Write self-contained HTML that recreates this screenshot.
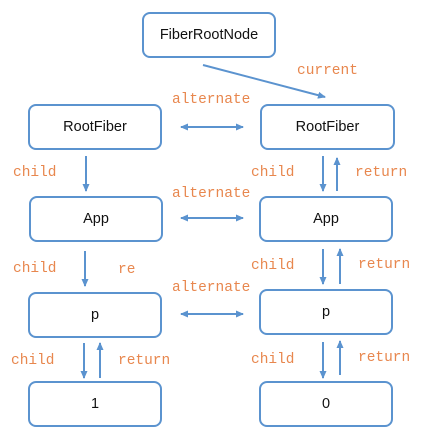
<!DOCTYPE html>
<html><head><style>
body{margin:0;background:#fff;width:446px;height:431px;overflow:hidden;position:relative}
.b{position:absolute;border:2px solid #5b93cf;border-radius:8px;box-sizing:border-box;display:flex;align-items:center;justify-content:center;font:14.5px "Liberation Sans",sans-serif;color:#111}
.l{position:absolute;font:14.5px "Liberation Mono",monospace;color:#e8874e;line-height:1}
svg{position:absolute;left:0;top:0}
</style></head><body>
<div class="b" style="left:142px;top:12px;width:134px;height:46px">FiberRootNode</div>
<div class="b" style="left:28px;top:104px;width:134px;height:46px">RootFiber</div>
<div class="b" style="left:260px;top:104px;width:135px;height:46px">RootFiber</div>
<div class="b" style="left:29px;top:196px;width:134px;height:46px">App</div>
<div class="b" style="left:259px;top:196px;width:134px;height:46px">App</div>
<div class="b" style="left:28px;top:292px;width:134px;height:46px">p</div>
<div class="b" style="left:259px;top:289px;width:134px;height:46px">p</div>
<div class="b" style="left:28px;top:381px;width:134px;height:46px">1</div>
<div class="b" style="left:259px;top:381px;width:134px;height:46px">0</div>

<div class="l" style="left:297px;top:64px">current</div>
<div class="l" style="left:172px;top:93px">alternate</div>
<div class="l" style="left:172px;top:187px">alternate</div>
<div class="l" style="left:172px;top:281px">alternate</div>
<div class="l" style="left:13px;top:166px">child</div>
<div class="l" style="left:13px;top:262px">child</div>
<div class="l" style="left:11px;top:354px">child</div>
<div class="l" style="left:118px;top:263px">re</div>
<div class="l" style="left:118px;top:354px">return</div>
<div class="l" style="left:251px;top:166px">child</div>
<div class="l" style="left:251px;top:259px">child</div>
<div class="l" style="left:251px;top:353px">child</div>
<div class="l" style="left:355px;top:166px">return</div>
<div class="l" style="left:358px;top:258px">return</div>
<div class="l" style="left:358px;top:351px">return</div>

<svg width="446" height="431">
<defs><marker id="a" markerWidth="8" markerHeight="8" refX="7" refY="4" orient="auto-start-reverse" markerUnits="userSpaceOnUse"><path d="M0,0.5L8,4L0,7.5z" fill="#5b93cf"/></marker></defs>
<g stroke="#5b93cf" stroke-width="2" fill="none">
<line x1="203" y1="65" x2="325" y2="97" marker-end="url(#a)"/>
<line x1="181" y1="127" x2="243" y2="127" marker-end="url(#a)" marker-start="url(#a)"/>
<line x1="181" y1="218" x2="243" y2="218" marker-end="url(#a)" marker-start="url(#a)"/>
<line x1="181" y1="314" x2="243" y2="314" marker-end="url(#a)" marker-start="url(#a)"/>
<line x1="86" y1="156" x2="86" y2="191" marker-end="url(#a)"/>
<line x1="323" y1="156" x2="323" y2="191" marker-end="url(#a)"/>
<line x1="337" y1="191" x2="337" y2="158" marker-end="url(#a)"/>
<line x1="85" y1="251" x2="85" y2="286" marker-end="url(#a)"/>
<line x1="323" y1="249" x2="323" y2="284" marker-end="url(#a)"/>
<line x1="340" y1="284" x2="340" y2="249" marker-end="url(#a)"/>
<line x1="84" y1="343" x2="84" y2="378" marker-end="url(#a)"/>
<line x1="100" y1="378" x2="100" y2="343" marker-end="url(#a)"/>
<line x1="323" y1="342" x2="323" y2="378" marker-end="url(#a)"/>
<line x1="340" y1="375" x2="340" y2="341" marker-end="url(#a)"/>
</g>
</svg>
</body></html>
